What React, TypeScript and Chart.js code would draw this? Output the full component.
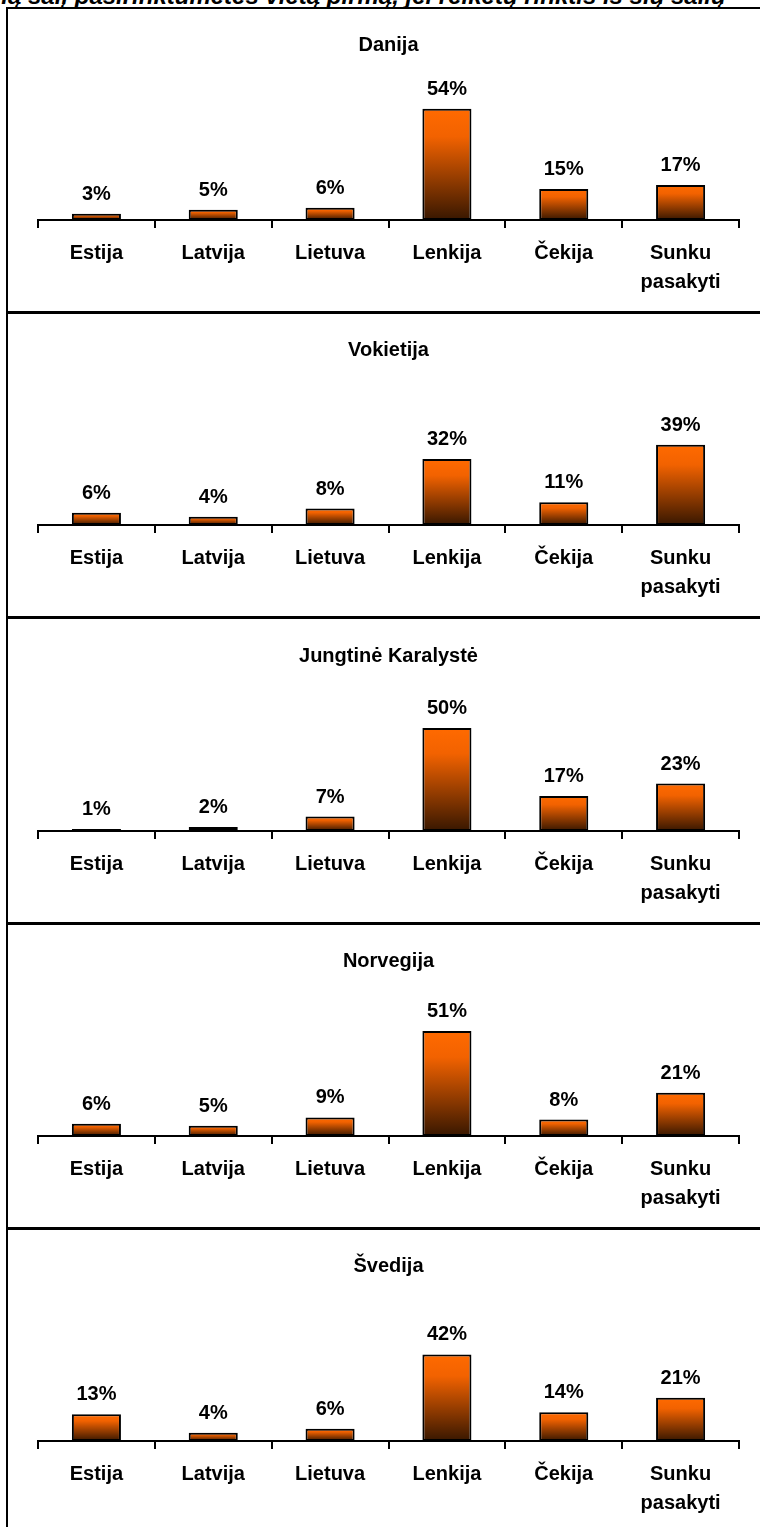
import React, { useEffect, useRef } from "react";
import { Chart, registerables } from "chart.js";

Chart.register(...registerables);

const categories: (string | string[])[] = ["Estija", "Latvija", "Lietuva", "Lenkija", "Čekija", ["Sunku", "pasakyti"]];
const panelTitles = ["Danija", "Vokietija", "Jungtinė Karalystė", "Norvegija", "Švedija"];
const daniaValues = [3, 5, 6, 54, 15, 17];
const vokietijaValues = [6, 4, 8, 32, 11, 39];
const karalysteValues = [1, 2, 7, 50, 17, 23];
const norvegijaValues = [6, 5, 9, 51, 8, 21];
const svedijaValues = [13, 4, 6, 42, 14, 21];
const panelValues = [daniaValues, vokietijaValues, karalysteValues, norvegijaValues, svedijaValues];
const headerText = "Kurią šalį pasirinktumėtės vietą pirmą, jei reikėtų rinktis iš šių šalių";

const FONT = "'Liberation Sans', Arial, sans-serif";
const PANEL_STEP = 305.25;

const valueLabelPlugin = {
  id: "valueLabels",
  afterDatasetsDraw(chart: any) {
    const ctx = chart.ctx;
    const meta = chart.getDatasetMeta(0);
    const data = chart.data.datasets[0].data as number[];
    ctx.save();
    ctx.font = `bold 20px ${FONT}`;
    ctx.fillStyle = "#000";
    ctx.textAlign = "center";
    ctx.textBaseline = "alphabetic";
    meta.data.forEach((el: any, i: number) => {
      ctx.fillText(`${data[i]}%`, el.x, el.y - 14);
    });
    ctx.restore();
  },
};

function Panel({ title, values, index }: { title: string; values: number[]; index: number }) {
  const ref = useRef<HTMLCanvasElement | null>(null);
  useEffect(() => {
    if (!ref.current) return;
    const chart = new Chart(ref.current, {
      type: "bar",
      data: {
        labels: categories as any,
        datasets: [
          {
            data: values,
            backgroundColor: (c: any) => {
              const ch = c.chart;
              if (c.type !== "data" || !ch.scales || !ch.scales.y || !c.parsed) return "#FF6600";
              const ys = ch.scales.y;
              const top = ys.getPixelForValue(c.parsed.y);
              const base = ys.getPixelForValue(0);
              if (!isFinite(top) || !isFinite(base) || base - top < 1) return "#FF6600";
              const g = ch.ctx.createLinearGradient(0, top, 0, base);
              g.addColorStop(0, "#FF6A00");
              g.addColorStop(0.25, "#F26200");
              g.addColorStop(1, "#381700");
              return g;
            },
            borderColor: "#000",
            borderWidth: 2,
            borderSkipped: false,
            barPercentage: 0.42,
            categoryPercentage: 1,
          },
        ],
      },
      options: {
        responsive: false,
        animation: false,
        devicePixelRatio: 1,
        layout: { padding: { left: 30, right: 21, top: 0, bottom: 0 } },
        plugins: {
          legend: { display: false },
          tooltip: { enabled: false },
          title: {
            display: true,
            text: title,
            color: "#000",
            font: { family: FONT, size: 20, weight: "bold", lineHeight: 1.2 },
            padding: { top: 25.5, bottom: 8 },
          },
        },
        scales: {
          y: { display: false, min: 0, max: 75 },
          x: {
            offset: true,
            grid: {
              offset: true,
              drawOnChartArea: false,
              drawTicks: true,
              tickLength: 8,
              color: "#000",
              lineWidth: 2,
            },
            border: { display: true, color: "#000", width: 2 },
            ticks: {
              color: "#000",
              padding: 10.5,
              maxRotation: 0,
              autoSkip: false,
              font: { family: FONT, size: 20, weight: "bold", lineHeight: 1.45 },
            },
            afterFit: (scale: any) => {
              scale.height = 78;
            },
          },
        },
      },
      plugins: [valueLabelPlugin],
    });
    return () => chart.destroy();
  }, [title, values]);

  return (
    <canvas
      ref={ref}
      width={752}
      height={290}
      style={{ position: "absolute", left: 8, top: 8 + index * PANEL_STEP, width: 752, height: 290 }}
    />
  );
}

export default function App() {
  return (
    <div
      style={{
        position: "fixed",
        left: 0,
        top: 0,
        width: 760,
        height: 1527,
        overflow: "hidden",
        background: "#fff",
        fontFamily: FONT,
      }}
    >
      <div
        style={{
          position: "absolute",
          left: -40,
          top: -18,
          whiteSpace: "nowrap",
          fontStyle: "italic",
          fontWeight: "bold",
          fontSize: 24,
          color: "#000",
        }}
      >
        {headerText}
      </div>
      {panelTitles.map((t, i) => (
        <Panel key={t} title={t} values={panelValues[i]} index={i} />
      ))}
      <div style={{ position: "absolute", left: 6, top: 7, width: 2, height: 1540, background: "#000" }} />
      <div style={{ position: "absolute", left: 6, top: 7, width: 800, height: 2, background: "#000" }} />
      {[0, 1, 2, 3].map((i) => (
        <div
          key={i}
          style={{
            position: "absolute",
            left: 6,
            top: 311 + i * PANEL_STEP,
            width: 800,
            height: 3,
            background: "#000",
          }}
        />
      ))}
    </div>
  );
}
